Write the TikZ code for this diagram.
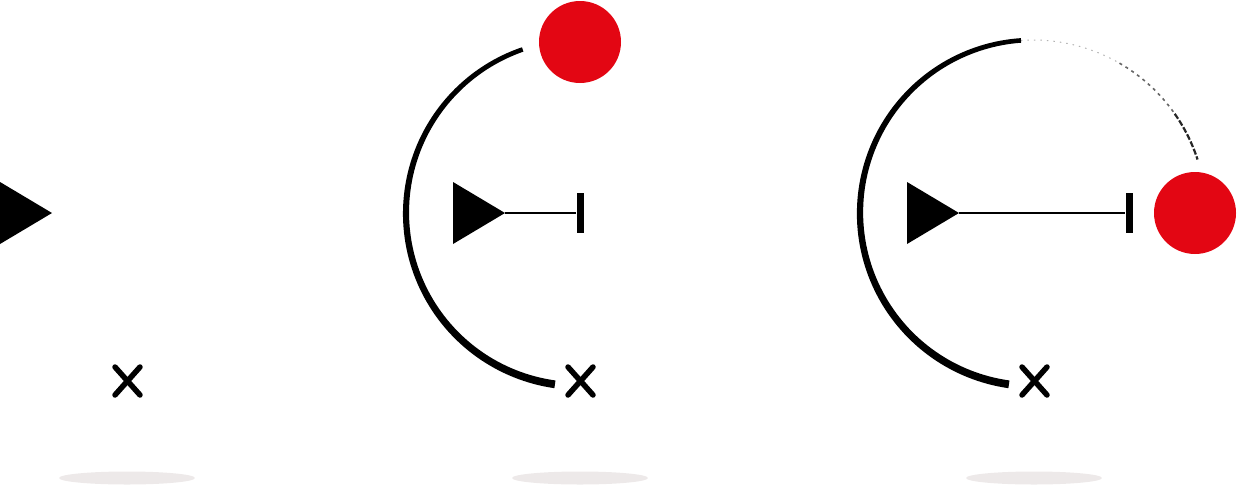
\documentclass[tikz,border=0pt]{standalone}
\definecolor{dotred}{RGB}{227,6,19}
\definecolor{shade}{RGB}{237,233,233}
\tikzset{
  xmark/.style={line width=5.5pt, line cap=round},
  dot/.style={circle, fill=dotred, inner sep=0pt, minimum size=82pt},
  floorshadow/.style={fill=shade},
  stem/.style={line width=1.5pt},
  tbar/.style={fill=black, inner sep=0pt, minimum width=7pt, minimum height=40pt},
}
\begin{document}
\begin{tikzpicture}[x=1pt,y=-1pt]
\useasboundingbox (0,0) rectangle (1237,485);
% ---------- panel 1 ----------
\begin{scope}
  \fill (0,182) -- (52,213) -- (0,244) -- cycle;
  \coordinate (tip1) at (52,213);
  \draw[xmark] (115,367) -- (140,395) (115,395) -- (140,367);
  \coordinate (x1) at (127,381);
  \fill[floorshadow] (127,478) ellipse [x radius=68, y radius=6.5];
\end{scope}
% ---------- panel 2 ----------
\begin{scope}[xshift=453pt]
  \fill (0,182) -- (52,213) -- (0,244) -- cycle;
  \coordinate (tip2) at (52,213);
  \draw[xmark] (115,367) -- (140,395) (115,395) -- (140,367);
  \coordinate (x2) at (127,381);
  \fill[floorshadow] (127,478) ellipse [x radius=68, y radius=6.5];
  \node[tbar] (bar2) at (127,213) {};
  \draw[stem] (tip2) -- (bar2.west);
  \node[dot] (dot2) at (127,42) {};
  \fill plot[domain=98:251,samples=90] ({126+(173+(3.9-1.6*(\x-98)/153))*cos(\x)},{213+(173+(3.9-1.6*(\x-98)/153))*sin(\x)})
     -- plot[domain=251:98,samples=90] ({126+(173-(3.9-1.6*(\x-98)/153))*cos(\x)},{213+(173-(3.9-1.6*(\x-98)/153))*sin(\x)}) -- cycle;
\end{scope}
% ---------- panel 3 ----------
\begin{scope}[xshift=907pt]
  \fill (0,182) -- (52,213) -- (0,244) -- cycle;
  \coordinate (tip3) at (52,213);
  \draw[xmark] (115,367) -- (140,395) (115,395) -- (140,367);
  \coordinate (x3) at (127,381);
  \fill[floorshadow] (127,478) ellipse [x radius=68, y radius=6.5];
  \node[tbar] (bar3) at (222,213) {};
  \draw[stem] (tip3) -- (bar3.west);
  \node[dot] (dot3) at (288,213) {};
  \fill plot[domain=98:266,samples=100] ({126+(173+(3.9-1.6*(\x-98)/168))*cos(\x)},{213+(173+(3.9-1.6*(\x-98)/168))*sin(\x)})
     -- plot[domain=266:98,samples=100] ({126+(173-(3.9-1.6*(\x-98)/168))*cos(\x)},{213+(173-(3.9-1.6*(\x-98)/168))*sin(\x)}) -- cycle;
  \draw[line width=1pt, dash pattern=on 1.5pt off 5pt, opacity=0.3] (126,213) ++(266:173) arc[start angle=266, end angle=300, radius=173];
  \draw[line width=1.6pt, dash pattern=on 3pt off 4pt, opacity=0.6] (126,213) ++(300:173) arc[start angle=300, end angle=325, radius=173];
  \draw[line width=2.2pt, dash pattern=on 6pt off 2pt, opacity=0.85] (126,213) ++(325:173) arc[start angle=325, end angle=342, radius=173];
\end{scope}
\end{tikzpicture}
\end{document}
